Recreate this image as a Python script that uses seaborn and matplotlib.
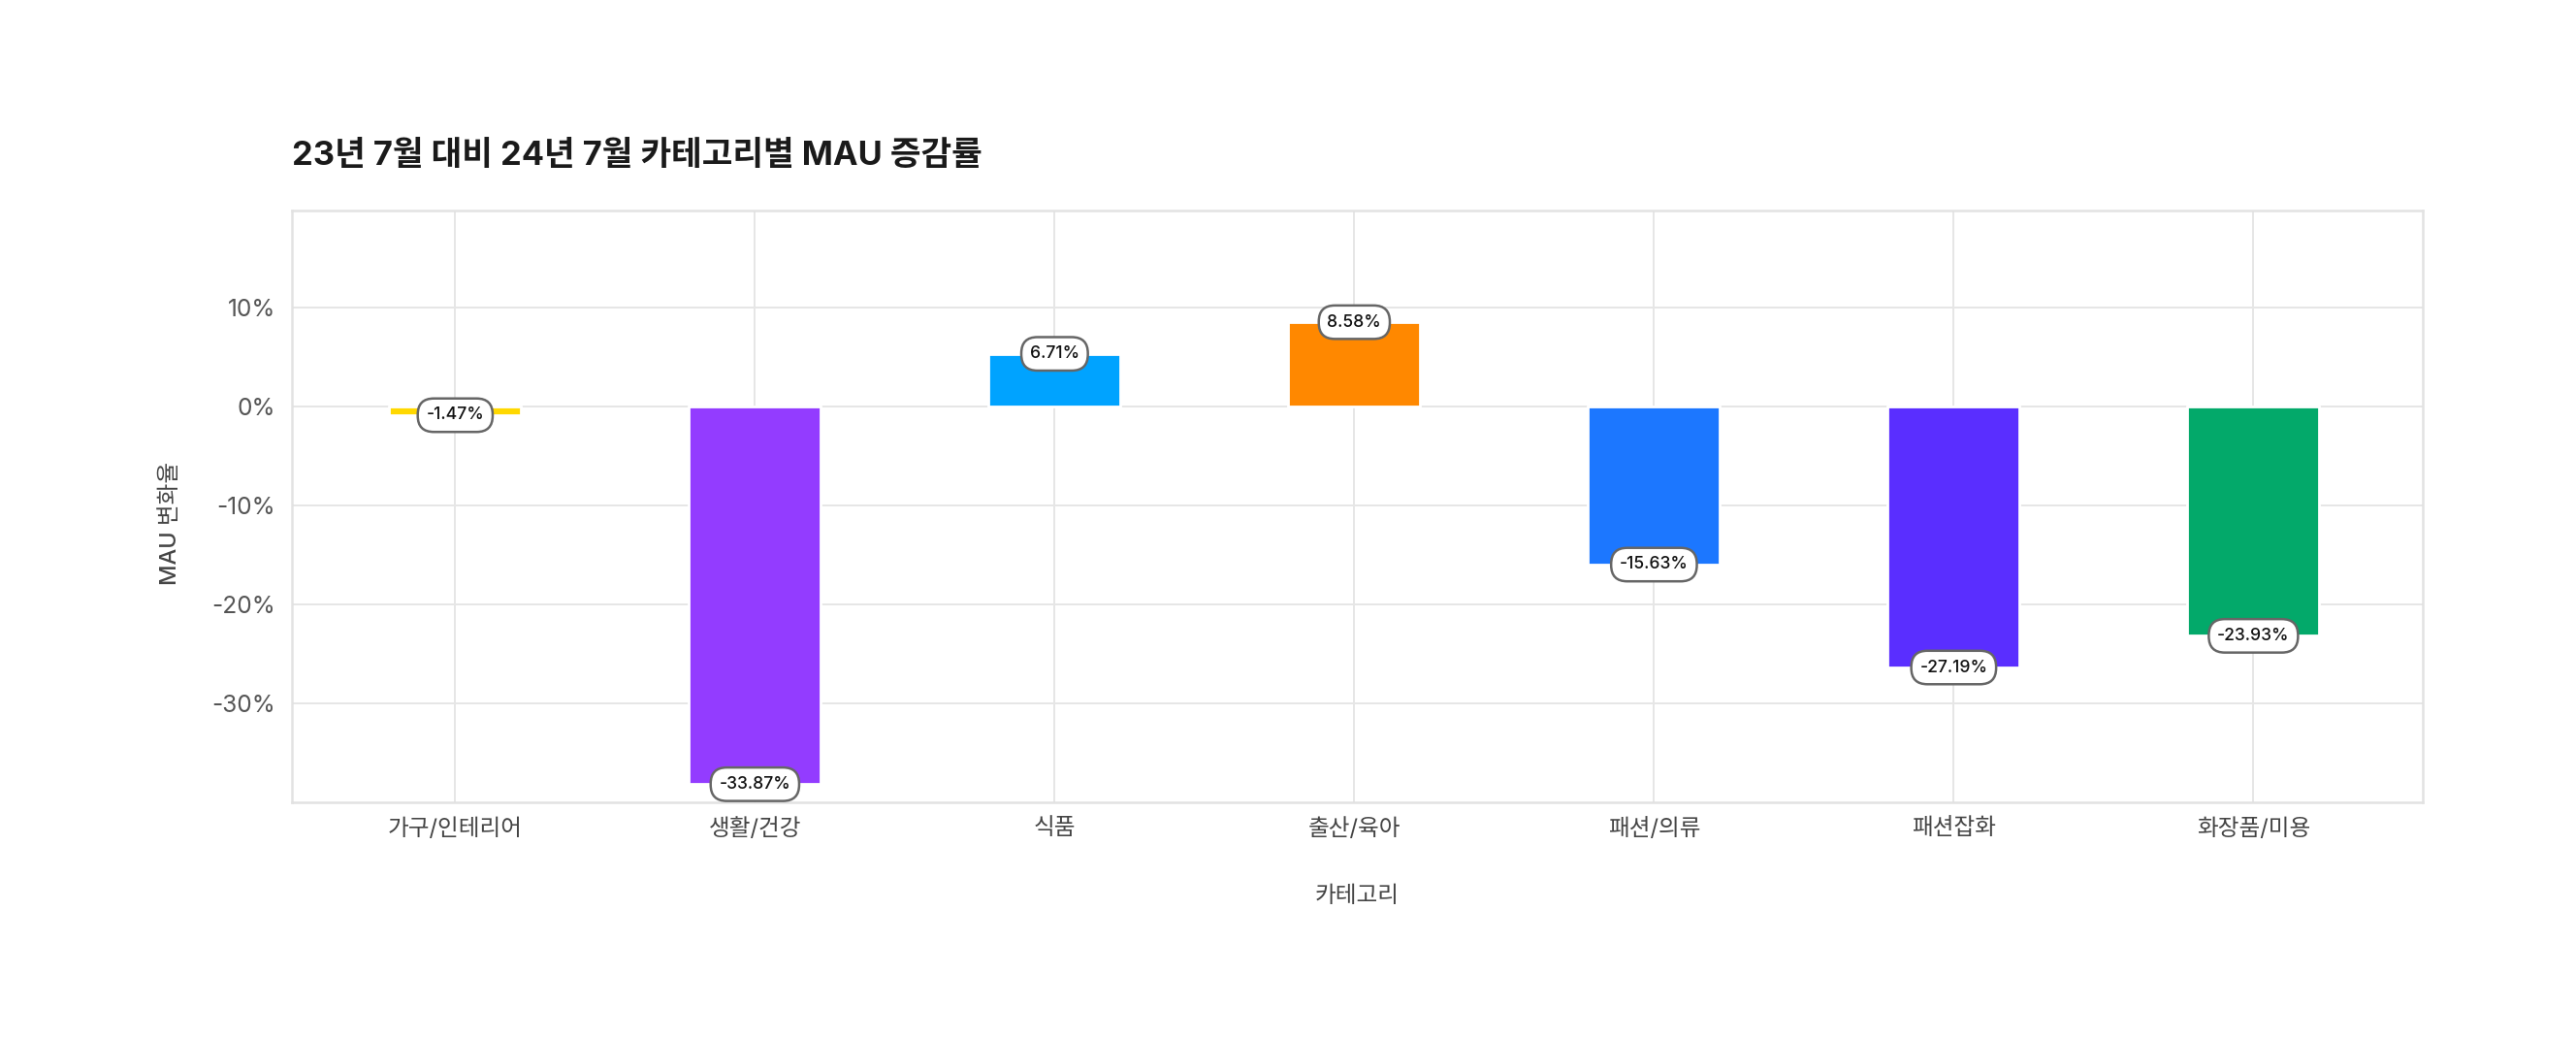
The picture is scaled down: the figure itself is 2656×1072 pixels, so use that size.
import matplotlib
matplotlib.use("Agg")
import matplotlib.pyplot as plt
import matplotlib.ticker as mticker
import pandas as pd
import seaborn as sns

# --- data ---
categories = ['가구/인테리어', '생활/건강', '식품', '출산/육아', '패션/의류', '패션잡화', '화장품/미용']
bar_values = [-0.9, -38.2, 5.3, 8.5, -16.0, -26.4, -23.2]          # bar heights (%) as drawn
label_texts = ['-1.47%', '-33.87%', '6.71%', '8.58%', '-15.63%', '-27.19%', '-23.93%']
bar_colors = ['#FFD800', '#933CFF', '#00A3FF', '#FF8800', '#1C77FF', '#5A2EFF', '#03A96A']
y_ticks = [-30, -20, -10, 0, 10]

df = pd.DataFrame({'category': categories, 'change': bar_values})

sns.set_theme(style='white')
plt.rcParams['font.family'] = ['Inter', 'Noto Sans CJK KR', 'DejaVu Sans']
plt.rcParams['axes.unicode_minus'] = False

fig = plt.figure(figsize=(13.28, 5.36), dpi=200)
ax = fig.add_axes([0.1133, 0.2288, 0.8272, 0.5689])

sns.barplot(data=df, x='category', y='change', hue='category', palette=bar_colors,
            width=0.44, saturation=1, legend=False, ax=ax, zorder=2)

# value labels in pill boxes at the bar ends
for i, (val, txt) in enumerate(zip(bar_values, label_texts)):
    ax.text(i, val, txt, ha='center', va='center', fontsize=6.3, fontweight='medium',
            color='#111111', zorder=5,
            bbox=dict(boxstyle='round,pad=0.5,rounding_size=0.95', fc='white',
                      ec='#666666', lw=0.9))

ax.set_xlim(-0.545, 6.565)
ax.set_ylim(-40, 19.8)
ax.set_yticks(y_ticks)
ax.yaxis.set_major_formatter(mticker.FuncFormatter(lambda v, p: f'{v:.0f}%'))

ax.grid(True, color='#e6e6e6', lw=0.7, zorder=0)
ax.set_axisbelow(True)
for s in ax.spines.values():
    s.set_color('#e2e2e2')
    s.set_linewidth(0.9)

ax.tick_params(axis='y', length=0, pad=6, labelsize=8.8, labelcolor='#555555')
ax.tick_params(axis='x', length=0, pad=6, labelsize=8.5, labelcolor='#444444')

ax.set_xlabel('카테고리', fontsize=8.5, fontweight='medium', color='#444444')
ax.set_ylabel('MAU 변화율', fontsize=8.5, fontweight='medium', color='#444444')
ax.xaxis.set_label_coords(0.5, -0.16)
ax.yaxis.set_label_coords(-0.057, 0.471)
ax.xaxis.label.set_va('center')
ax.yaxis.label.set_va('center')

fig.text(0.1133, 0.85, '23년 7월 대비 24년 7월 카테고리별 MAU 증감률', ha='left', va='center',
         fontsize=12.4, fontweight='bold', color='#1a1a1a')

fig.savefig('out.png', dpi=200, facecolor='white')
